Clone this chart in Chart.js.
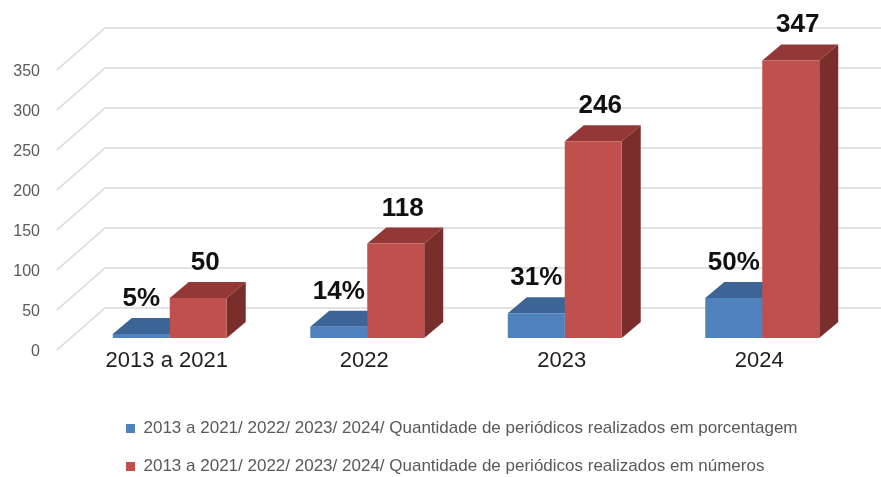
<!DOCTYPE html>
<html><head><meta charset="utf-8">
<script src="https://cdn.jsdelivr.net/npm/chart.js@4.4.1/dist/chart.umd.min.js"></script>
<style>html,body{margin:0;padding:0;background:#fff;overflow:hidden}</style>
</head><body>
<canvas id="c" width="881" height="477"></canvas>
<script>
// ---- data ----
const categories = ['2013 a 2021', '2022', '2023', '2024'];
const percentValues = [5, 14, 31, 50];
const percentLabels = ['5%', '14%', '31%', '50%'];
const countValues = [50, 118, 246, 347];
const countLabels = ['50', '118', '246', '347'];
const yTickValues = [0, 50, 100, 150, 200, 250, 300, 350];
const seriesNames = [
  '2013 a 2021/ 2022/ 2023/ 2024/ Quantidade de periódicos realizados em porcentagem',
  '2013 a 2021/ 2022/ 2023/ 2024/ Quantidade de periódicos realizados em números'
];

// ---- styles ----
const PALETTE = [
  { front: '#4F81BD', top: '#3C6595', side: '#2F5077' },
  { front: '#C0504D', top: '#933836', side: '#7A2E2C' }
];
const DEPTH = { dx: 19, dy: 16 };
const WALL = { frontX: -14, backX: 34, frontY: 12, backY: -30 };
const LABEL_STYLE = { font: 'bold 26px "Liberation Sans", Arial, sans-serif', color: '#111', rise: 28, shift: [0, 7] };
const LEGEND_SHIFT = 105;

const threeD = {
  id: 'threeD',
  afterLayout(chart) {
    chart.legend.left += LEGEND_SHIFT;
    chart.legend.right += LEGEND_SHIFT;
  },
  beforeDatasetsDraw(chart) {
    const ctx = chart.ctx, y = chart.scales.y, area = chart.chartArea;
    ctx.save();
    ctx.strokeStyle = '#d9d9d9';
    ctx.lineWidth = 1.6;
    yTickValues.forEach(v => {
      const py = y.getPixelForValue(v);
      ctx.beginPath();
      ctx.moveTo(area.left + WALL.frontX, py + WALL.frontY);
      ctx.lineTo(area.left + WALL.backX, py + WALL.backY);
      ctx.lineTo(chart.width, py + WALL.backY);
      ctx.stroke();
    });
    const metas = chart.getSortedVisibleDatasetMetas();
    const n = chart.data.labels.length;
    for (let i = 0; i < n; i++) {
      metas.forEach((meta, di) => {
        const el = meta.data[i];
        const p = el.getProps(['x', 'y', 'base', 'width'], true);
        const l = p.x - p.width / 2, r = p.x + p.width / 2, t = p.y, b = p.base;
        const c = PALETTE[di];
        ctx.fillStyle = c.top;
        ctx.beginPath();
        ctx.moveTo(l, t); ctx.lineTo(r, t);
        ctx.lineTo(r + DEPTH.dx, t - DEPTH.dy); ctx.lineTo(l + DEPTH.dx, t - DEPTH.dy);
        ctx.closePath(); ctx.fill();
        ctx.fillStyle = c.side;
        ctx.beginPath();
        ctx.moveTo(r, t); ctx.lineTo(r + DEPTH.dx, t - DEPTH.dy);
        ctx.lineTo(r + DEPTH.dx, b - DEPTH.dy); ctx.lineTo(r, b);
        ctx.closePath(); ctx.fill();
      });
    }
    ctx.restore();
  },
  afterDatasetsDraw(chart) {
    const ctx = chart.ctx;
    const labelSets = [percentLabels, countLabels];
    ctx.save();
    ctx.font = LABEL_STYLE.font;
    ctx.fillStyle = LABEL_STYLE.color;
    ctx.textAlign = 'center';
    ctx.textBaseline = 'alphabetic';
    chart.getSortedVisibleDatasetMetas().forEach((meta, di) => {
      meta.data.forEach((el, i) => {
        const p = el.getProps(['x', 'y'], true);
        ctx.fillText(labelSets[di][i], p.x + LABEL_STYLE.shift[di], p.y - LABEL_STYLE.rise);
      });
    });
    ctx.restore();
  }
};

new Chart(document.getElementById('c'), {
  type: 'bar',
  data: {
    labels: categories,
    datasets: [
      { label: seriesNames[0], data: percentValues, backgroundColor: PALETTE[0].front, borderWidth: 0 },
      { label: seriesNames[1], data: countValues, backgroundColor: PALETTE[1].front, borderWidth: 0 }
    ]
  },
  options: {
    responsive: false,
    animation: false,
    layout: { padding: { left: 0, right: 20, top: 58, bottom: 0 } },
    datasets: { bar: { categoryPercentage: 0.577, barPercentage: 1 } },
    scales: {
      x: {
        grid: { display: false, drawTicks: false },
        border: { display: false },
        ticks: { font: { family: 'Liberation Sans', size: 22 }, color: '#1f1f1f', padding: 10, labelOffset: -3 },
        afterFit: s => { s.height = 61; }
      },
      y: {
        min: 0, max: 350,
        afterBuildTicks: s => { s.ticks = yTickValues.map(v => ({ value: v })); },
        grid: { display: false, drawTicks: false },
        border: { display: false },
        ticks: { font: { family: 'Liberation Sans', size: 16 }, color: '#595959', padding: 31, labelOffset: 14 },
        afterFit: s => { s.width = 71; }
      }
    },
    plugins: {
      legend: {
        position: 'bottom', align: 'start', maxHeight: 78,
        labels: { boxWidth: 9, boxHeight: 9, padding: 21, color: '#595959', font: { family: 'Liberation Sans', size: 17 } }
      },
      tooltip: { enabled: false }
    }
  },
  plugins: [threeD]
});
</script>
</body></html>
